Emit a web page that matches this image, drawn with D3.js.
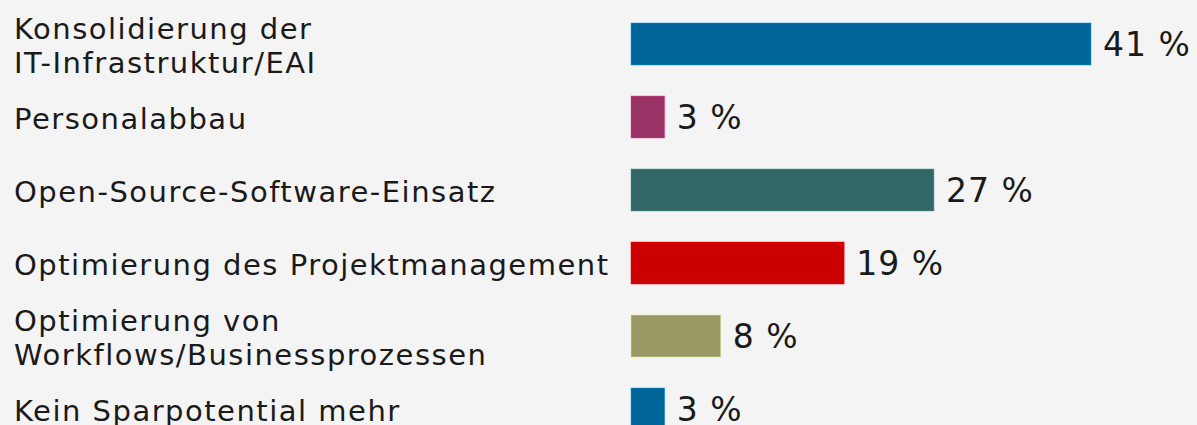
<!DOCTYPE html>
<html><head><meta charset="utf-8">
<script src="https://cdn.jsdelivr.net/npm/d3@7"></script>
<style>
html,body{margin:0;padding:0;background:#f4f4f4;overflow:hidden}
text{font-family:"DejaVu Sans",Verdana,sans-serif;fill:#1a1a1a}
</style></head><body>
<script>
const categories = [
  ["Konsolidierung der", "IT-Infrastruktur/EAI"],
  ["Personalabbau"],
  ["Open-Source-Software-Einsatz"],
  ["Optimierung des Projektmanagement"],
  ["Optimierung von", "Workflows/Businessprozessen"],
  ["Kein Sparpotential mehr"]
];
const values = [41, 3, 27, 19, 8, 3];
const colors = ["#006699", "#993366", "#336666", "#cc0000", "#999966", "#006699"];

const W = 1197, H = 425;
const svg = d3.select("body").append("svg").attr("width", W).attr("height", H);
svg.append("rect").attr("width", W).attr("height", H).attr("fill", "#f4f4f4");

const idx = d3.range(values.length);
const y = d3.scalePoint().domain(idx).range([44, 409]);
const x = d3.scaleLinear().domain([0, 41]).range([631, 1091]);
const barH = 42;

const fs = 29, ls = 1.5, lh = 34;

const g = svg.selectAll("g.row").data(idx).join("g").attr("class", "row");

g.append("rect")
  .attr("x", x(0))
  .attr("y", d => y(d) - barH / 2)
  .attr("width", d => x(values[d]) - x(0))
  .attr("height", barH)
  .attr("fill", d => colors[d])
  .attr("stroke", d => d3.color(colors[d]).brighter(1.2))
  .attr("stroke-opacity", 0.5)
  .attr("stroke-width", 1);

g.append("text")
  .attr("x", d => x(values[d]) + 12)
  .attr("y", d => y(d))
  .attr("dy", "0.36em")
  .attr("font-size", 33)
  .attr("letter-spacing", 1)
  .text(d => values[d] + " %");

g.each(function(d) {
  const lines = categories[d];
  const t = d3.select(this).append("text")
    .attr("x", 14)
    .attr("font-size", fs)
    .attr("letter-spacing", ls);
  const n = lines.length;
  lines.forEach((l, i) => {
    t.append("tspan")
      .attr("x", 14)
      .attr("y", y(d) + (i - (n - 1) / 2) * lh)
      .attr("dy", "0.4em")
      .text(l);
  });
});
</script>
</body></html>
